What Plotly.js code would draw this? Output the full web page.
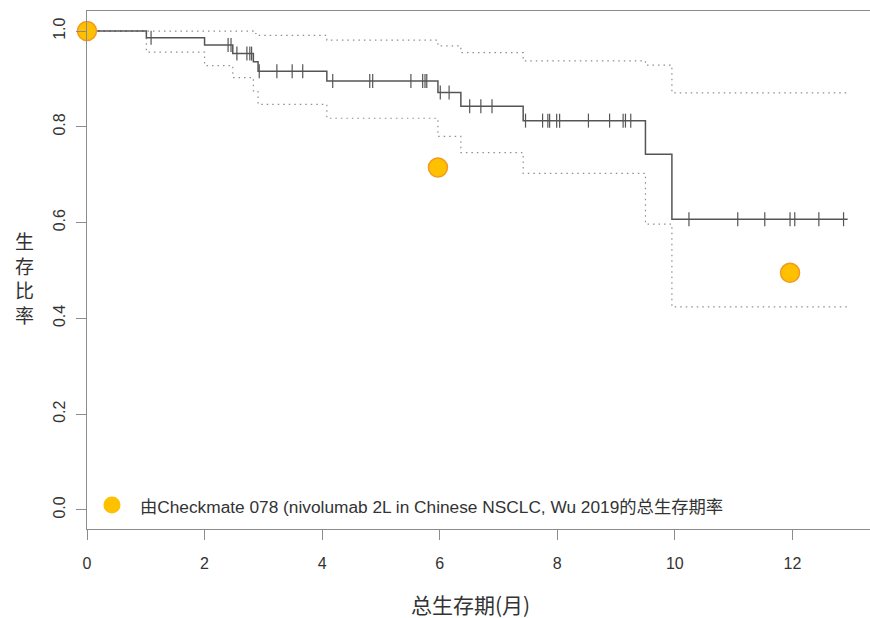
<!DOCTYPE html>
<html>
<head>
<meta charset="utf-8">
<script src="https://cdn.plot.ly/plotly-3.0.1.min.js"></script>
<style>html,body{margin:0;padding:0;background:#fff;}#chart{width:870px;height:618px;}</style>
</head>
<body>
<div id="chart"></div>
<script>
// Kaplan-Meier estimate (step start times and survival after each step)
const kmTimes = [0, 1.01, 2.00, 2.48, 2.83, 2.91, 4.08, 5.97, 6.36, 7.42, 9.50, 9.95, 12.94];
const kmSurv  = [1.000, 0.986, 0.971, 0.953, 0.936, 0.916, 0.896, 0.872, 0.843, 0.813, 0.743, 0.607, 0.607];
// 95% confidence band
const ciLower = [1.000, 0.956, 0.928, 0.903, 0.875, 0.847, 0.818, 0.780, 0.746, 0.703, 0.597, 0.424, 0.424];
const ciUpper = [1.000, 1.000, 1.000, 1.000, 0.995, 0.991, 0.981, 0.969, 0.955, 0.938, 0.929, 0.871, 0.871];
// censoring times
const censorTimes = [1.09, 2.40, 2.45, 2.55, 2.72, 2.77, 2.80, 2.93, 3.23, 3.49, 3.67, 4.18, 4.81, 4.86,
  5.51, 5.71, 5.75, 5.78, 6.01, 6.16, 6.51, 6.70, 6.89, 7.46, 7.75, 7.84, 7.87, 7.99, 8.04, 8.53,
  8.89, 9.12, 9.16, 9.25, 10.24, 11.07, 11.53, 11.96, 12.04, 12.45, 12.87];
// Checkmate 078 reference OS rates
const refMonths = [0, 5.97, 11.96];
const refRates  = [1.0, 0.715, 0.495];
const xTicks = [0, 2, 4, 6, 8, 10, 12];
const yTicks = [0, 0.2, 0.4, 0.6, 0.8, 1.0];
const yTickText = ['0.0', '0.2', '0.4', '0.6', '0.8', '1.0'];

function survAt(t) {
  let s = kmSurv[0];
  for (let i = 0; i < kmTimes.length; i++) { if (kmTimes[i] <= t) s = kmSurv[i]; }
  return s;
}
const censorSurv = censorTimes.map(survAt);

const cjk = '"Liberation Sans", Arial, "Noto Sans CJK SC", sans-serif';

const traces = [
  {x: kmTimes, y: ciUpper, mode: 'lines', line: {shape: 'hv', color: '#8f8f8f', width: 1.2, dash: '1.5px,4px'}, hoverinfo: 'skip'},
  {x: kmTimes, y: ciLower, mode: 'lines', line: {shape: 'hv', color: '#8f8f8f', width: 1.2, dash: '1.5px,4px'}, hoverinfo: 'skip'},
  {x: kmTimes, y: kmSurv, mode: 'lines', line: {shape: 'hv', color: '#555555', width: 1.5}},
  {x: censorTimes, y: censorSurv, mode: 'markers', marker: {symbol: 'line-ns', size: 10, line: {color: '#555555', width: 1.2}}},
  {x: refMonths, y: refRates, mode: 'markers', cliponaxis: false,
   marker: {size: 19, color: '#FFC000', line: {color: '#F39A1E', width: 1.5}}}
];

const layout = {
  width: 870, height: 618,
  margin: {l: 87, r: 0, t: 11, b: 89},
  paper_bgcolor: '#fff', plot_bgcolor: '#fff',
  showlegend: false,
  font: {family: cjk, color: '#333'},
  xaxis: {
    range: [0, 13.32], tickvals: xTicks, ticktext: xTicks.map(String),
    showgrid: false, zeroline: false, showline: true, mirror: true,
    linecolor: '#8c8c8c', linewidth: 1.2, ticks: 'outside', ticklen: 10, tickcolor: '#8c8c8c',
    tickfont: {size: 16, color: '#333'}, ticklabelstandoff: 10
  },
  yaxis: {
    range: [-0.04, 1.042], tickvals: yTicks, ticktext: yTickText, tickangle: -90,
    showgrid: false, zeroline: false, showline: true,
    linecolor: '#8c8c8c', linewidth: 1.2, ticks: 'outside', ticklen: 10, tickcolor: '#8c8c8c',
    tickfont: {size: 16, color: '#333'}, ticklabelstandoff: 4
  },
  shapes: [
    {type: 'circle', xref: 'paper', yref: 'paper', xsizemode: 'pixel', ysizemode: 'pixel',
     xanchor: 0.0319, yanchor: 0.0463, x0: -8.5, x1: 8.5, y0: -8.5, y1: 8.5,
     fillcolor: '#FFC000', line: {width: 0}}
  ],
  annotations: [
    {xref: 'paper', yref: 'paper', x: 0.0651, y: 0.0425, xanchor: 'left', yanchor: 'middle', showarrow: false,
     text: '由Checkmate 078 (nivolumab 2L in Chinese NSCLC, Wu 2019的总生存期率',
     font: {family: cjk, size: 17.3, color: '#333'}},
    {xref: 'paper', yref: 'paper', x: -0.0792, y: 0.4846, xanchor: 'center', yanchor: 'middle', showarrow: false,
     text: '生<br>存<br>比<br>率', font: {family: '"Noto Sans CJK SC", sans-serif', size: 19, color: '#333'}},
    {xref: 'paper', yref: 'paper', x: 0.4904, y: -0.1440, xanchor: 'center', yanchor: 'middle', showarrow: false,
     text: '总生存期(月)', font: {family: '"Noto Sans CJK SC", sans-serif', size: 21, color: '#333'}}
  ]
};

Plotly.newPlot('chart', traces, layout, {displayModeBar: false, staticPlot: true});
</script>
</body>
</html>
